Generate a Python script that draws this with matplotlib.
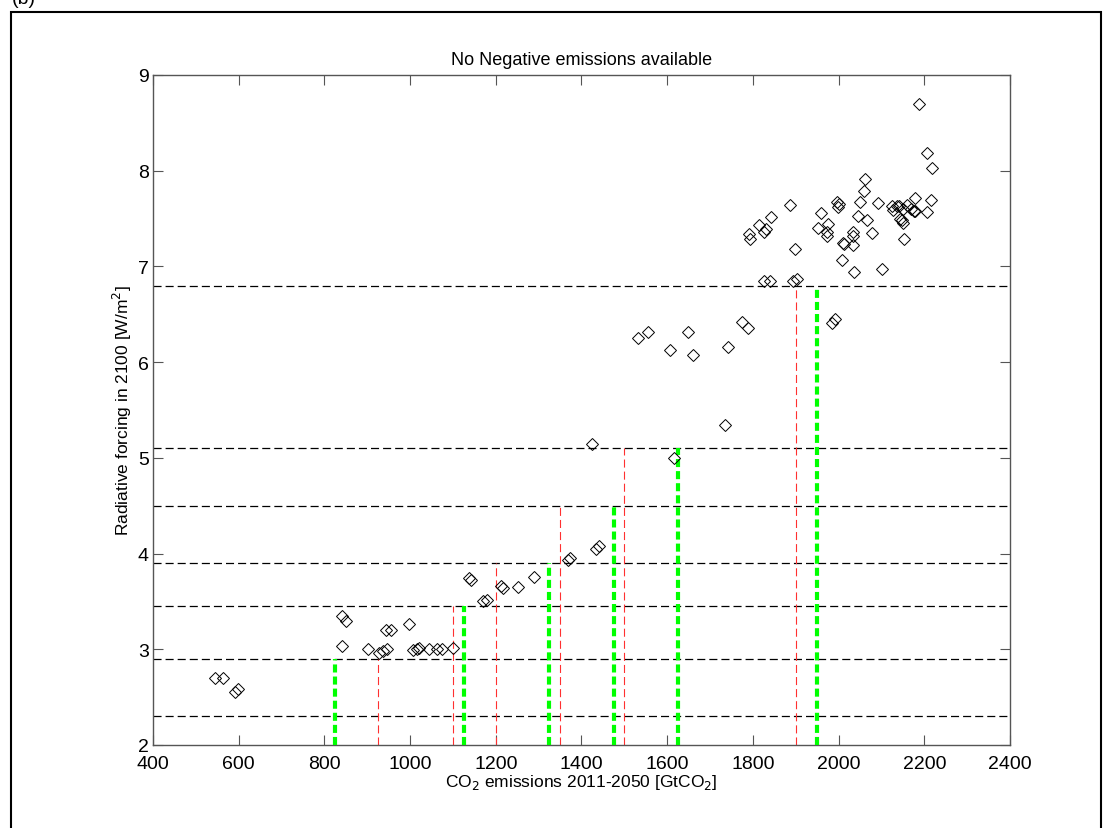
import matplotlib
matplotlib.use("Agg")
import matplotlib.pyplot as plt
from matplotlib.patches import Rectangle

plt.rcParams['font.family'] = ['Liberation Sans', 'DejaVu Sans']
plt.rcParams['lines.scale_dashes'] = False

# Scenario points: cumulative CO2 emissions 2011-2050 vs radiative forcing in 2100
emissions = [545, 564, 591, 599,
             840, 840, 850, 901, 927, 936, 947, 943, 955, 998, 1006, 1015, 1021,
             1043, 1063, 1074, 1099,
             1137, 1141, 1170, 1180, 1212, 1217, 1252, 1290, 1368, 1373, 1435, 1441,
             1424, 1617,
             1533, 1556, 1607, 1649, 1660, 1735, 1743, 1774, 1788,
             1792, 1793, 1815, 1827, 1830, 1842, 1887, 1898,
             1826, 1840, 1893, 1904,
             1953, 1960, 1976, 1972, 1972, 1985, 1992,
             1997, 2000, 1998, 2009, 2011, 2013, 2033, 2034, 2033, 2036,
             2046, 2050, 2060, 2062, 2066, 2077, 2093, 2102,
             2124, 2128, 2136, 2142, 2151, 2159, 2168, 2178, 2178, 2176,
             2143, 2147, 2151, 2153, 2188, 2207, 2217, 2215, 2206]
forcing = [2.70, 2.70, 2.55, 2.58,
           3.03, 3.35, 3.30, 3.00, 2.96, 2.98, 3.00, 3.20, 3.20, 3.26, 2.99, 3.00, 3.01,
           3.00, 3.00, 3.00, 3.01,
           3.75, 3.72, 3.50, 3.52, 3.66, 3.64, 3.65, 3.76, 3.93, 3.95, 4.05, 4.08,
           5.14, 5.00,
           6.25, 6.31, 6.13, 6.31, 6.07, 5.34, 6.16, 6.42, 6.36,
           7.34, 7.29, 7.43, 7.36, 7.39, 7.52, 7.64, 7.18,
           6.85, 6.85, 6.85, 6.87,
           7.40, 7.56, 7.44, 7.36, 7.32, 6.41, 6.45,
           7.67, 7.65, 7.62, 7.07, 7.25, 7.23, 7.22, 7.36, 7.32, 6.94,
           7.53, 7.67, 7.79, 7.91, 7.48, 7.35, 7.66, 6.97,
           7.63, 7.59, 7.63, 7.63, 7.60, 7.64, 7.60, 7.58, 7.72, 7.58,
           7.50, 7.48, 7.45, 7.29, 8.70, 8.19, 8.03, 7.69, 7.57]

# Forcing thresholds (horizontal dashed lines)
forcing_levels = [2.3, 2.9, 3.45, 3.9, 4.5, 5.1, 6.8]
# Emission budgets for each threshold (green thick, red thin)
green_budgets = [825, 1125, 1325, 1475, 1625, 1950]
green_levels = [2.9, 3.45, 3.9, 4.5, 5.1, 6.8]
red_budgets = [925, 1100, 1200, 1350, 1500, 1900]
red_levels = [2.9, 3.45, 3.9, 4.5, 5.1, 6.8]

xticks = [400, 600, 800, 1000, 1200, 1400, 1600, 1800, 2000, 2200, 2400]
yticks = [2, 3, 4, 5, 6, 7, 8, 9]

W, H = 1103, 829
fig = plt.figure(figsize=(W / 100, H / 100), dpi=100)
ax = fig.add_axes([153 / W, 1 - 746 / H, (1010 - 153) / W, (746 - 76) / H])

for lv in forcing_levels:
    ax.axhline(lv, color='black', lw=0.9, dashes=(5.8, 2.9), zorder=2)
for b, lv in zip(red_budgets, red_levels):
    ax.plot([b, b], [2, lv], color='#ff3030', lw=0.8, dashes=(5.8, 2.9), zorder=2)
for b, lv in zip(green_budgets, green_levels):
    ax.plot([b, b], [2, lv], color='#00ff00', lw=3.0, dashes=(5.8, 2.9), zorder=3)

ax.plot(emissions, forcing, linestyle='none', marker='D', markersize=6.2,
        markerfacecolor='none', markeredgecolor='black', markeredgewidth=0.7, zorder=4)

ax.set_xlim(400, 2400)
ax.set_ylim(2, 9)
ax.set_xticks(xticks)
ax.set_yticks(yticks)
ax.tick_params(direction='in', length=7, width=0.8, color='#555555',
               labelsize=14, top=True, right=True)
ax.tick_params(axis='x', pad=7)
ax.tick_params(axis='y', pad=3)
for s in ax.spines.values():
    s.set_color('#555555')
    s.set_linewidth(1.0)

ax.set_title('No Negative emissions available', fontsize=13, pad=8)
ax.set_xlabel('CO$_2$ emissions 2011-2050 [GtCO$_2$]', fontsize=12.5, labelpad=0)
ax.set_ylabel('Radiative forcing in 2100 [W/m$^2$]', fontsize=12.5, labelpad=3)

# Outer panel frame and panel label
fig.patches.append(Rectangle((11 / W, -0.01), (1101 - 11) / W, 1.01 - 13 / H,
                             transform=fig.transFigure, fill=False,
                             edgecolor='black', lw=1.5))
fig.text(12 / W, 1 - 4 / H, '(b)', fontsize=14, ha='left', va='baseline')

fig.savefig('out.png', dpi=100)
